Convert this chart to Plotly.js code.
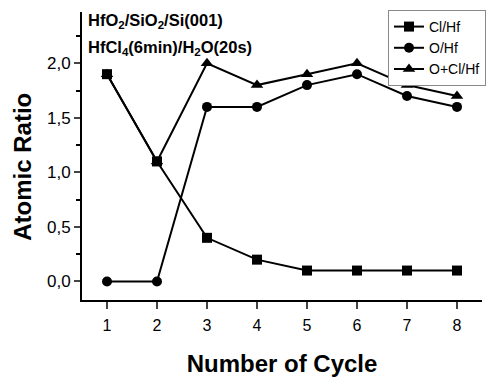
<!DOCTYPE html>
<html><head><meta charset="utf-8">
<script src="https://cdn.plot.ly/plotly-3.0.1.min.js"></script>
<style>html,body{margin:0;padding:0;background:#fff}#c{width:486px;height:378px}</style>
</head><body><div id="c"></div>
<script>
const cycles = [1, 2, 3, 4, 5, 6, 7, 8];
const clHf = [1.9, 1.1, 0.4, 0.2, 0.1, 0.1, 0.1, 0.1];
const oHf = [0, 0, 1.6, 1.6, 1.8, 1.9, 1.7, 1.6];
const oClHf = [1.9, 1.1, 2.0, 1.8, 1.9, 2.0, 1.8, 1.7];
const names = ['Cl/Hf', 'O/Hf', 'O+Cl/Hf'];
const symbols = ['square', 'circle', 'triangle-up'];
const series = [clHf, oHf, oClHf];

const traces = series.map((y, i) => ({
  x: cycles, y: y, name: names[i], type: 'scatter', mode: 'lines+markers',
  line: {color: '#000', width: 2},
  marker: {symbol: symbols[i], size: i === 2 ? 11 : 10, color: '#000'}
}));

const FF = 'Liberation Sans, Arial, sans-serif';
const layout = {
  width: 486, height: 378,
  margin: {l: 82, r: 0, t: 12, b: 78},
  separators: ',.',
  paper_bgcolor: '#fff', plot_bgcolor: '#fff',
  font: {family: FF, color: '#000', size: 16},
  showlegend: true,
  legend: {x: 0.765, y: 1.007, xanchor: 'left', yanchor: 'top',
    bordercolor: '#888', borderwidth: 1, bgcolor: '#fff',
    font: {size: 14}, tracegroupgap: 0, itemwidth: 30},
  xaxis: {range: [0.5, 8.5], tickvals: cycles, ticks: 'outside', ticklen: 7, tickwidth: 2,
    ticklabelstandoff: 3,
    showline: true, linewidth: 2, linecolor: '#000', showgrid: false, zeroline: false,
    title: {text: 'Number of Cycle', font: {size: 24, family: FF, weight: 'bold'}, standoff: 22}},
  yaxis: {range: [-0.17, 2.47], tickvals: [0, 0.5, 1, 1.5, 2], tickformat: '.1f',
    ticks: 'outside', ticklen: 6, tickwidth: 2, tickfont: {size: 17},
    minor: {tickvals: [0.25, 0.75, 1.25, 1.75, 2.25], ticks: 'outside', ticklen: 4, tickwidth: 2, tickcolor: '#000'},
    showline: true, linewidth: 2, linecolor: '#000', showgrid: false, zeroline: false},
  annotations: [
    {xref: 'paper', yref: 'paper', x: -0.148, y: 0.462, xanchor: 'center', yanchor: 'middle', showarrow: false,
     textangle: -90, text: '<b>Atomic Ratio</b>', font: {size: 24}},
    {xref: 'paper', yref: 'paper', x: 0.01, y: 1.01, xanchor: 'left', yanchor: 'top', showarrow: false,
     text: '<b>HfO<sub>2</sub>/SiO<sub>2</sub>/Si(001)</b>', font: {size: 16.5}},
    {xref: 'paper', yref: 'paper', x: 0.01, y: 0.915, xanchor: 'left', yanchor: 'top', showarrow: false,
     text: '<b>HfCl<sub>4</sub>(6min)/H<sub>2</sub>O(20s)</b>', font: {size: 16.5}}
  ]
};
Plotly.newPlot('c', traces, layout, {staticPlot: true});
</script></body></html>
